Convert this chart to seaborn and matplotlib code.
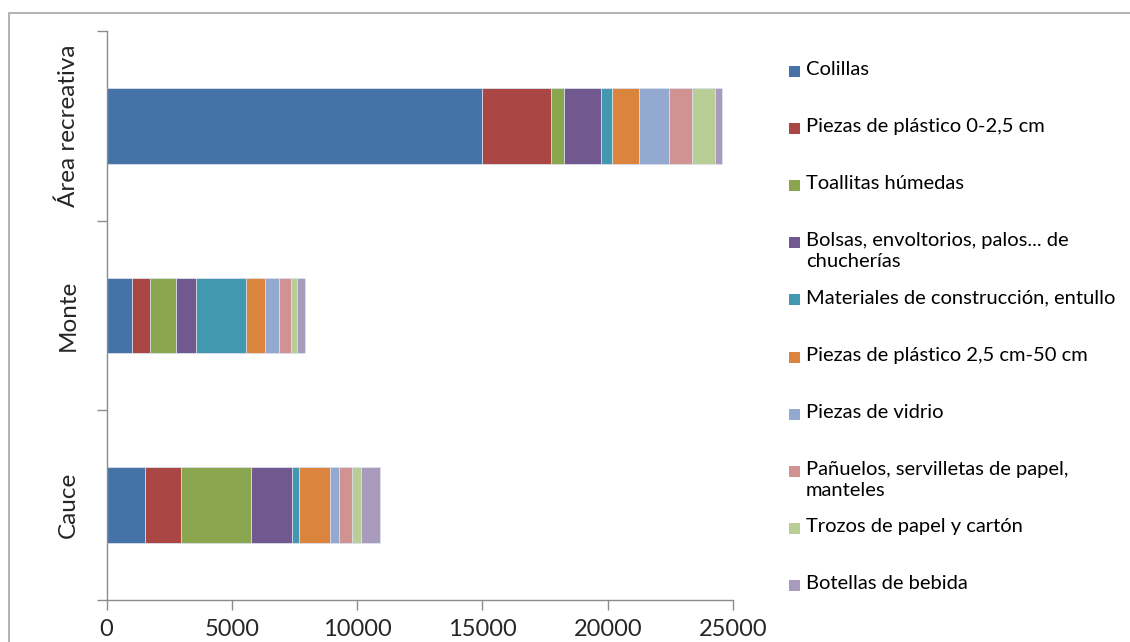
import numpy as np
import pandas as pd
import matplotlib
matplotlib.use("Agg")
import matplotlib.pyplot as plt
from matplotlib.patches import Rectangle
import seaborn as sns

# Sites (top to bottom) and waste categories
sites = ["Área recreativa", "Monte", "Cauce"]
waste_types = [
    "Colillas",
    "Piezas de plástico 0-2,5 cm",
    "Toallitas húmedas",
    "Bolsas, envoltorios, palos... de\nchucherías",
    "Materiales de construcción, entullo",
    "Piezas de plástico 2,5 cm-50 cm",
    "Piezas de vidrio",
    "Pañuelos, servilletas de papel,\nmanteles",
    "Trozos de papel y cartón",
    "Botellas de bebida",
]

# Counts per site, in the order of `sites`
colillas = [15000, 1030, 1530]
plastico_0_25 = [2750, 690, 1435]
toallitas = [515, 1035, 2815]
bolsas = [1475, 820, 1615]
construccion = [450, 1980, 280]
plastico_25_50 = [1065, 755, 1235]
vidrio = [1190, 570, 360]
panuelos = [900, 465, 545]
papel_carton = [945, 250, 360]
botellas = [260, 320, 755]

series = [colillas, plastico_0_25, toallitas, bolsas, construccion,
          plastico_25_50, vidrio, panuelos, papel_carton, botellas]

colors = ["#4572A7", "#AA4643", "#89A54E", "#71588F", "#4198AF",
          "#DB843D", "#93A9CF", "#D19392", "#B9CD96", "#A99BBD"]

x_ticks = [0, 5000, 10000, 15000, 20000, 25000]

sns.set_theme(style="white")
plt.rcParams["font.family"] = ["Lato", "DejaVu Sans"]

fig = plt.figure(figsize=(11.3, 6.42), dpi=100)
ax = fig.add_axes([106.5 / 1130, 1 - 600 / 642, 626.5 / 1130, 569 / 642])

# Stacked bars: draw cumulative totals from the last segment to the first
cum = np.cumsum(np.array(series, dtype=float), axis=0)
for i in reversed(range(len(series))):
    df = pd.DataFrame({"site": sites, "value": cum[i]})
    sns.barplot(data=df, x="value", y="site", order=sites, orient="h",
                color=colors[i], saturation=1, width=0.4,
                edgecolor="#dde3ee", linewidth=0.6, ax=ax, errorbar=None)

ax.set_xlim(0, 25000)
ax.set_ylim(2.5, -0.5)
ax.set_xlabel("")
ax.set_ylabel("")

# Axes styling
for side in ["top", "right"]:
    ax.spines[side].set_visible(False)
for side in ["left", "bottom"]:
    ax.spines[side].set_color("#8c8c8c")
    ax.spines[side].set_linewidth(1.0)

ax.set_xticks(x_ticks)
ax.set_xticklabels([str(t) for t in x_ticks], fontsize=17)
ax.tick_params(axis="x", direction="out", length=7, width=1, color="#8c8c8c",
               pad=7, bottom=True)

ax.set_yticks([-0.5, 0.5, 1.5, 2.5])
ax.set_yticklabels([])
ax.set_yticks([0, 1, 2], minor=True)
ax.set_yticklabels(sites, minor=True, rotation=90, va="center", fontsize=17.5)
ax.tick_params(axis="y", which="major", direction="out", length=7, width=1,
               color="#8c8c8c", left=True)
ax.tick_params(axis="y", which="minor", length=0, pad=20)

# Legend drawn as colored squares with labels
y0 = 71
step = 57.1
for i, (lab, c) in enumerate(zip(waste_types, colors)):
    yc = y0 + i * step
    fig.patches.append(Rectangle((789 / 1130, 1 - (yc + 6) / 642), 11 / 1130, 11 / 642,
                                 transform=fig.transFigure, facecolor=c,
                                 edgecolor="none"))
    fig.text(806 / 1130, 1 - (yc - 10) / 642, lab, fontsize=14.5, va="top",
             ha="left", linespacing=1.3, color="#000000")

# Chart frame
fig.patches.append(Rectangle((8.5 / 1130, -0.05), 1.2, 1 - 13 / 642 + 0.05,
                             transform=fig.transFigure, fill=False,
                             edgecolor="#a6a6a6", linewidth=1.2))

fig.savefig("out.png", dpi=100)
